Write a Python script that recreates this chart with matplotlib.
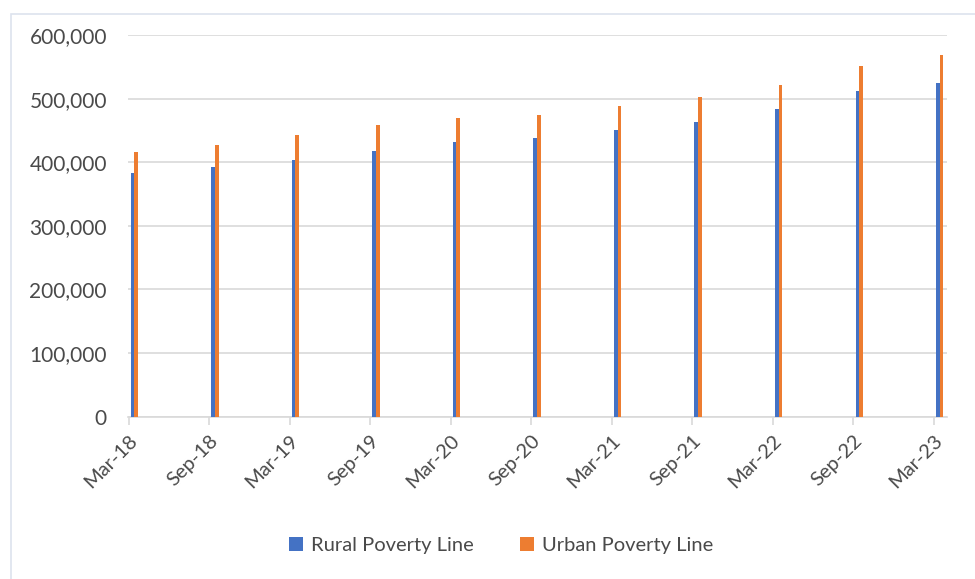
import matplotlib.pyplot as plt
from matplotlib.patches import Rectangle
from matplotlib.ticker import FuncFormatter

plt.rcParams['font.family'] = ['Lato', 'DejaVu Sans']

periods = ['Mar-18', 'Sep-18', 'Mar-19', 'Sep-19', 'Mar-20', 'Sep-20',
           'Mar-21', 'Sep-21', 'Mar-22', 'Sep-22', 'Mar-23']
rural = [383000, 392000, 404000, 417000, 432000, 438000,
         450000, 464000, 483000, 512000, 525000]
urban = [416000, 427000, 443000, 458000, 470000, 474000,
         489000, 502000, 521000, 551000, 568000]

blue = '#4472c4'
orange = '#ed7d31'
grey_txt = '#4a4a4a'
grid_c = '#d9d9d9'

fig = plt.figure(figsize=(9.75, 5.79), dpi=100)
# светлая рамка вокруг диаграммы
fig.patches.append(Rectangle((0.011, -0.01), 1.0, 0.985, transform=fig.transFigure,
                             fill=False, edgecolor='#dde3ee', linewidth=1.2))

ax = fig.add_axes([0.131, 0.2805, 0.84, 0.659])

x = list(range(len(periods)))
w = 0.045
ax.bar([i + 0.05 for i in x], rural, width=w, color=blue, label='Rural Poverty Line', zorder=3)
ax.bar([i + 0.095 for i in x], urban, width=w, color=orange, label='Urban Poverty Line', zorder=3)

ax.set_xlim(-0.01, 10.16)
ax.set_ylim(0, 600000)
ax.set_yticks(range(0, 600001, 100000))
ax.yaxis.set_major_formatter(FuncFormatter(lambda v, p: f'{int(v):,}'))
ax.grid(axis='y', color=grid_c, linewidth=1.2, zorder=0)

for s in ['top', 'right', 'left']:
    ax.spines[s].set_visible(False)
ax.spines['bottom'].set_color(grid_c)
ax.spines['bottom'].set_linewidth(1.2)

ax.set_xticks(x)
ax.set_xticklabels(periods, rotation=45, ha='right', rotation_mode='anchor')
ax.tick_params(axis='x', colors=grid_c, length=6, width=1.2, labelcolor=grey_txt,
               labelsize=14.5, pad=5)
ax.tick_params(axis='y', length=0, labelcolor=grey_txt, labelsize=15, pad=15)

ax.legend(loc='center', bbox_to_anchor=(0.514, 0.058), bbox_transform=fig.transFigure,
          ncol=2, frameon=False, fontsize=14.5, labelcolor=grey_txt,
          handlelength=0.7, handleheight=0.7, handletextpad=0.4, columnspacing=2.3)

plt.savefig('out.png', dpi=100)
